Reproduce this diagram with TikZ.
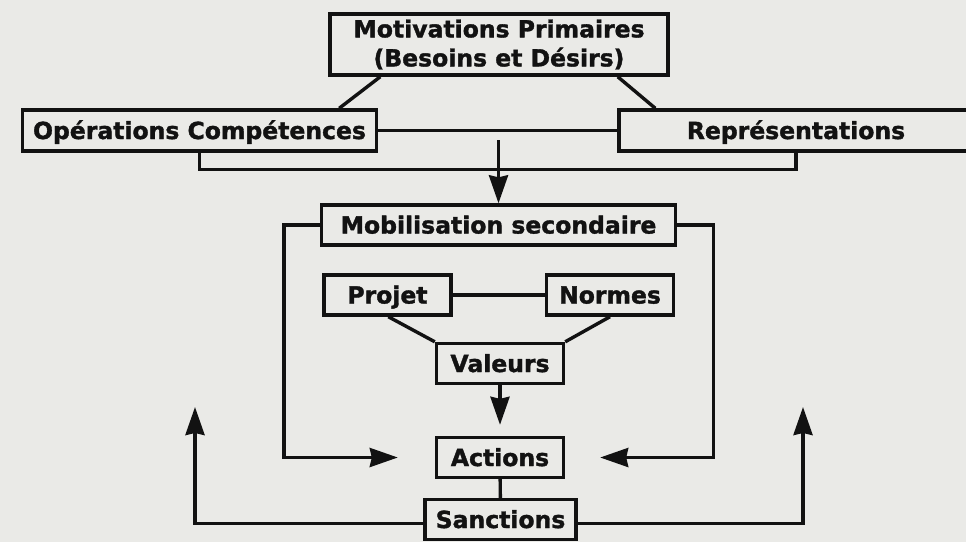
\documentclass[tikz,border=0pt]{standalone}
\usepackage{fontspec}
\setsansfont{DejaVu Sans}[BoldFeatures={FakeBold=1.5}]
\usetikzlibrary{arrows.meta,positioning}
\definecolor{paper}{RGB}{234,234,231}
\definecolor{ink}{RGB}{18,18,18}

\begin{document}
\begin{tikzpicture}[
    x=1pt, y=-1pt,
    box/.style={rectangle, draw=ink, fill=paper, line width=3.4pt, align=center, inner sep=0pt, minimum height=40pt, text=ink, font=\sffamily\bfseries\fontsize{23.5}{29}\selectfont},
    single/.style={box, text height=17pt, text depth=0pt},
    wide/.style={single, minimum width=354pt},
    small/.style={single, minimum width=127pt},
    link/.style={draw=ink, line width=3.4pt},
    arrow/.style={link, -{Stealth[length=28pt, width=19pt, inset=2pt]}}
]
    \fill[paper] (0,0) rectangle (966,542);
    \useasboundingbox (0,0) rectangle (966,542);

    \node[box, minimum width=338pt, minimum height=61pt] (mot) at (499,44.5) {Motivations Primaires\\(Besoins et Désirs)};
    \node[wide, minimum height=41pt] (ops) at (199.5,130.5) {Opérations Compétences};
    \node[wide, minimum height=41pt] (rep) at (796,130.5) {Représentations};
    \node[wide] (mob) at (498.5,225) {Mobilisation secondaire};
    \node[small] (proj) at (387.5,295) {Projet};
    \node[small] (norm) at (610,295) {Normes};
    \node[small] (val) at (500,363.5) {Valeurs};
    \node[small] (act) at (500,457.5) {Actions};
    \node[single, minimum width=151pt] (sanc) at (500.5,519.5) {Sanctions};

    \coordinate (fork) at (498.5,140);
    \coordinate (backl) at (195,407);
    \coordinate (backr) at (803,407);

    \draw[link] ([xshift=52pt]mot.south west) -- ([xshift=-39pt]ops.north east);
    \draw[link] ([xshift=-52pt]mot.south east) -- ([xshift=38pt]rep.north west);
    \draw[link] (ops) -- (rep);
    \draw[link] (ops.south) -- ++(0,17) -| (rep.south);
    \draw[arrow] (fork) -- (mob);
    \draw[arrow] (mob.west) -- ++(-36,0) |- ([xshift=-37pt]act.west);
    \draw[arrow] (mob.east) -- ++(36,0) |- ([xshift=35pt]act.east);
    \draw[link] (proj) -- (norm);
    \draw[link] ([xshift=66pt]proj.south west) -- (val.north west);
    \draw[link] (norm.south) -- (val.north east);
    \draw[arrow] (val) -- ([yshift=11pt]act.north);
    \draw[link] (act) -- (sanc);
    \draw[arrow] ([yshift=-4pt]sanc.west) -| (backl);
    \draw[arrow] ([yshift=-4pt]sanc.east) -| (backr);
\end{tikzpicture}
\end{document}
